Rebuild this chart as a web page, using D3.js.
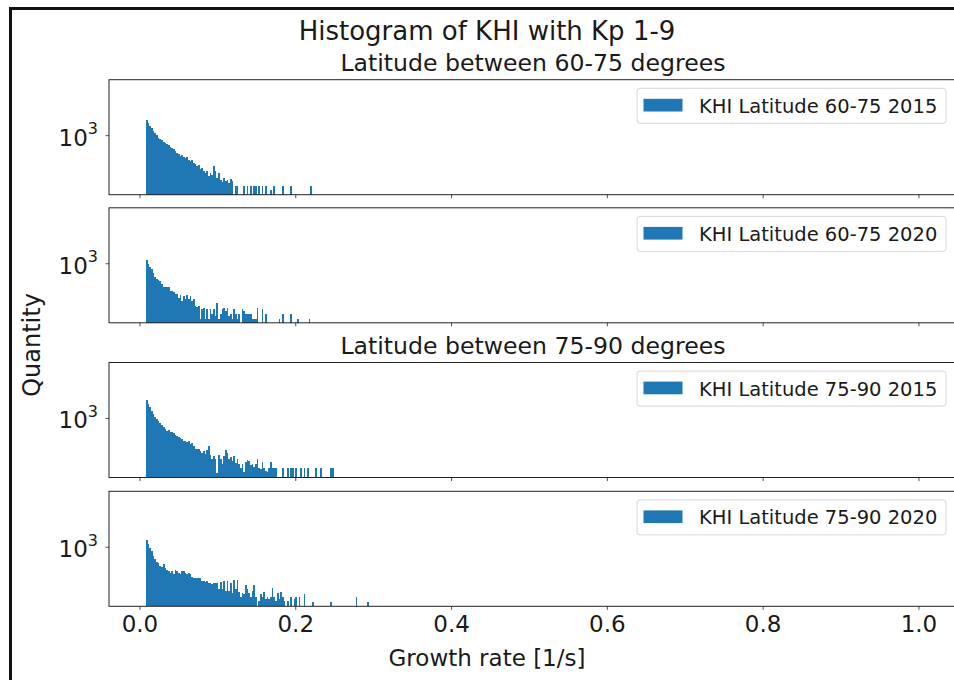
<!DOCTYPE html>
<html>
<head>
<meta charset="utf-8">
<script src="https://cdn.jsdelivr.net/npm/d3@7/dist/d3.min.js"></script>
<style>
  body { margin: 0; background: #fff; }
  svg { display: block; font-family: "DejaVu Sans", sans-serif; }
</style>
</head>
<body>
<div id="chart"></div>
<script>
// histogram bins: counts per bin, first bin starts at binStart
var binStart = 0.0085;
var binWidth = 0.99 / 460;

var xTicks = [0, 0.2, 0.4, 0.6, 0.8, 1.0];
var yTicks = [1000];

var figTitle = "Histogram of KHI with Kp 1-9";
var groupTitles = ["Latitude between 60-75 degrees", "Latitude between 75-90 degrees"];
var seriesNames = ["KHI Latitude 60-75 2015", "KHI Latitude 60-75 2020", "KHI Latitude 75-90 2015", "KHI Latitude 75-90 2020"];

var counts6075_2015 = [
  1531,1409,1298,1228,1131,1070,1013,932,907,882,
  835,812,790,769,728,708,689,652,617,600,
  568,584,553,538,553,509,495,509,468,456,
  431,443,397,408,376,356,376,327,356,337,
  431,376,310,356,293,278,310,285,293,270,
  301,285,0,249,249,0,0,0,249,0,
  249,0,249,0,249,249,0,249,0,249,
  0,249,0,0,223,0,249,0,0,0,
  0,249,0,0,0,0,249,0,0,0,
  0,0,0,0,0,0,0,0,249];

var counts6075_2020 = [
  1091,977,890,851,775,676,657,634,617,563,
  513,527,527,513,468,468,447,428,428,389,
  416,356,408,373,416,373,408,356,373,304,
  296,310,215,283,288,215,283,215,283,247,
  283,235,334,215,247,283,288,270,288,235,
  247,215,283,247,215,247,0,283,270,247,
  247,247,247,215,215,215,288,0,0,283,
  0,247,0,0,0,0,0,0,0,215,
  0,247,0,0,0,0,247,0,0,0,
  215,0,0,0,0,0,0,215];

var counts7590_2015 = [
  1631,1461,1334,1218,1109,1013,966,925,882,819,
  769,734,702,718,683,670,652,622,600,584,
  568,557,533,533,509,533,485,499,465,431,
  431,431,405,386,405,369,416,465,359,321,
  353,321,217,359,321,280,353,416,386,321,
  337,307,353,293,321,280,249,280,223,299,
  316,307,272,280,256,280,321,249,244,299,
  249,233,223,249,299,249,249,249,0,0,
  0,249,0,0,249,0,249,249,0,249,
  0,0,249,0,249,0,249,0,0,0,
  0,249,0,0,249,0,0,0,0,0,
  249,249];

var counts7590_2020 = [
  1195,1070,977,890,775,708,657,634,589,579,
  617,563,527,513,481,513,468,527,513,491,
  468,513,513,491,468,491,468,435,428,428,
  428,428,428,389,389,379,389,373,373,356,
  366,366,366,310,379,310,389,296,389,296,
  366,283,397,310,400,288,253,283,270,346,
  310,283,253,296,346,253,0,224,270,253,
  288,240,253,240,253,325,253,224,283,240,
  288,253,224,0,224,0,253,0,240,253,
  0,253,0,0,270,0,0,0,0,218,
  0,0,0,0,0,0,0,0,0,0,
  218,0,0,0,0,0,0,0,0,0,
  0,0,0,0,0,253,0,0,0,0,
  0,0,218];

var allCounts = [counts6075_2015, counts6075_2020, counts7590_2015, counts7590_2020];

// layout
var W = 954, H = 680;
var axLeft = 109, axRight = 957;
var panelTops = [79.7, 207.8, 362.5, 491.3];
var ph = 115;
var barColor = "#1f77b4";

var svg = d3.select("#chart")
  .append("svg")
    .attr("width", W)
    .attr("height", H);

svg.append("rect").attr("width", W).attr("height", H).attr("fill", "#fff");

// screenshot frame
svg.append("rect").attr("x", 9).attr("y", 7).attr("width", 3).attr("height", H).attr("fill", "#111");
svg.append("rect").attr("x", 9).attr("y", 7).attr("width", W).attr("height", 3).attr("fill", "#111");

var x = d3.scaleLinear()
  .domain([-0.0391, 1.0495])
  .range([axLeft, axRight]);

var y = d3.scaleLog()
  .domain([194, 4603])
  .range([ph, 0]);

allCounts.forEach(function(counts, pi) {
  var g = svg.append("g")
    .attr("transform", "translate(0," + panelTops[pi] + ")");

  var bins = counts.map(function(c, i) {
    return {x0: binStart + i * binWidth, x1: binStart + (i + 1) * binWidth, n: c};
  }).filter(function(d) { return d.n > 0; });

  g.selectAll("rect.bar")
    .data(bins)
    .enter()
    .append("rect")
      .attr("class", "bar")
      .attr("x", function(d) { return x(d.x0); })
      .attr("width", function(d) { return x(d.x1) - x(d.x0); })
      .attr("y", function(d) { return y(d.n); })
      .attr("height", function(d) { return ph - y(d.n); })
      .attr("fill", barColor)
      .attr("shape-rendering", "crispEdges");

  // x axis (labels only on the last panel)
  var xAxis = g.append("g")
    .attr("transform", "translate(0," + ph + ")")
    .call(d3.axisBottom(x).tickValues(xTicks).tickSize(3.5).tickPadding(6)
      .tickFormat(pi === 3 ? d3.format(".1f") : function() { return ""; }));
  xAxis.select(".domain").remove();
  xAxis.selectAll("line").attr("stroke", "#222").attr("stroke-width", 0.8);
  xAxis.selectAll("text").attr("fill", "#1a1a1a").style("font-size", "23px").attr("font-family", "DejaVu Sans");

  // y axis, 10^3 tick
  var yAxis = g.append("g")
    .attr("transform", "translate(" + axLeft + ",0)")
    .call(d3.axisLeft(y).tickValues(yTicks).tickSize(3.5).tickFormat(function() { return ""; }));
  yAxis.select(".domain").remove();
  yAxis.selectAll("line").attr("stroke", "#222").attr("stroke-width", 0.8);
  yAxis.selectAll(".tick").each(function(d) {
    var t = d3.select(this).append("text")
      .attr("x", -11)
      .attr("y", 10)
      .attr("text-anchor", "end")
      .attr("fill", "#1a1a1a")
      .attr("font-family", "DejaVu Sans");
    t.append("tspan").style("font-size", "23px").text("10");
    t.append("tspan").style("font-size", "16px").attr("dy", -11.5).text(Math.round(Math.log10(d)));
  });

  // spines
  g.append("rect")
    .attr("x", axLeft).attr("y", 0)
    .attr("width", axRight - axLeft).attr("height", ph)
    .attr("fill", "none")
    .attr("stroke", "#222")
    .attr("stroke-width", 1);

  // legend
  var lg = g.append("g").attr("transform", "translate(637," + 8.6 + ")");
  lg.append("rect")
    .attr("width", 309).attr("height", 35)
    .attr("rx", 3)
    .attr("fill", "#fff").attr("fill-opacity", 0.8)
    .attr("stroke", "#d6d6d6");
  lg.append("rect")
    .attr("x", 6.5).attr("y", 10.5).attr("width", 39).attr("height", 12.7)
    .attr("fill", barColor);
  lg.append("text")
    .attr("x", 62).attr("y", 24.5)
    .attr("fill", "#1a1a1a")
    .style("font-size", "19.5px")
    .text(seriesNames[pi]);
});

// titles
svg.append("text")
  .attr("x", 487).attr("y", 40)
  .attr("text-anchor", "middle")
  .attr("fill", "#1a1a1a")
  .style("font-size", "26px")
  .text(figTitle);

svg.append("text")
  .attr("x", 533).attr("y", panelTops[0] - 8.7)
  .attr("text-anchor", "middle")
  .attr("fill", "#1a1a1a")
  .style("font-size", "23.6px")
  .text(groupTitles[0]);

svg.append("text")
  .attr("x", 533).attr("y", panelTops[2] - 8.7)
  .attr("text-anchor", "middle")
  .attr("fill", "#1a1a1a")
  .style("font-size", "23.6px")
  .text(groupTitles[1]);

// axis labels
svg.append("text")
  .attr("x", 487).attr("y", 666)
  .attr("text-anchor", "middle")
  .attr("fill", "#1a1a1a")
  .style("font-size", "23px")
  .text("Growth rate [1/s]");

svg.append("text")
  .attr("transform", "translate(40,345) rotate(-90)")
  .attr("text-anchor", "middle")
  .attr("fill", "#1a1a1a")
  .style("font-size", "24px")
  .text("Quantity");
</script>
</body>
</html>
